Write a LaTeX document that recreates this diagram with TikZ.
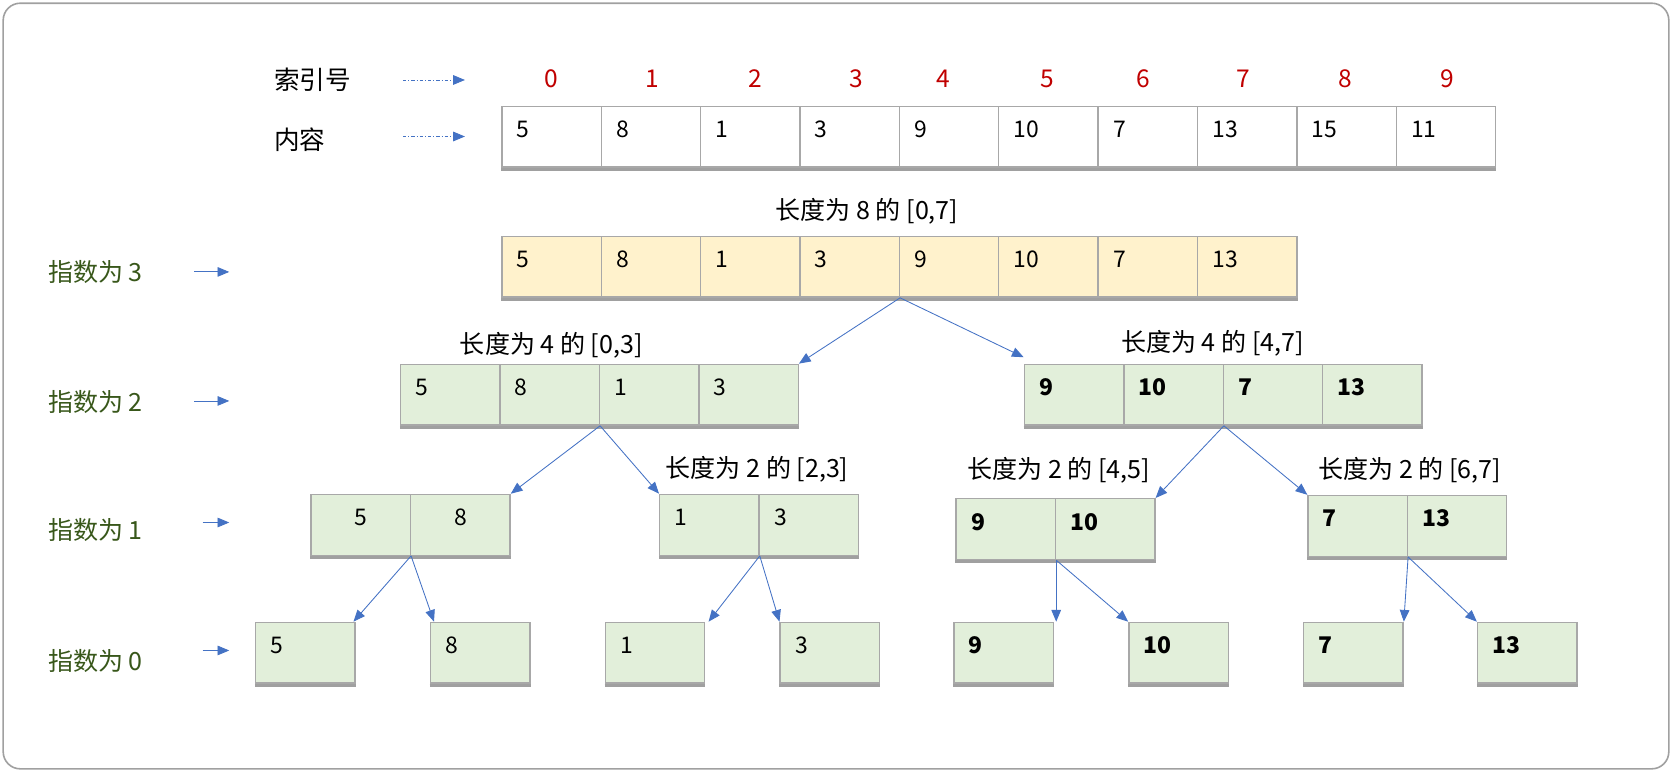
\documentclass[tikz,border=0pt]{standalone}
\usepackage{fontspec}
\setmainfont{Noto Sans CJK SC}
\usetikzlibrary{arrows.meta}
\definecolor{lblgreen}{HTML}{38571A}
\definecolor{idxred}{HTML}{C00000}
\definecolor{arrblue}{HTML}{4472C4}
\definecolor{cellgray}{HTML}{A8A8A8}
\definecolor{shadowgray}{HTML}{A0A0A0}
\definecolor{yelfill}{HTML}{FFF2CC}
\definecolor{grnfill}{HTML}{E2EFDA}
\tikzset{
  cell/.style={draw=cellgray, line width=1.3pt, anchor=north west,
    inner ysep=0pt, inner xsep=14pt, text width=65.2pt, align=left,
    text height=29.5pt, text depth=27.5pt, font=\fontsize{21.5}{24}\selectfont},
  ccell/.style={cell, align=center},
  bcell/.style={cell, font=\fontsize{21.5}{24}\selectfont\bfseries},
  shadow/.style={draw=shadowgray, line width=3pt},
  conn/.style={draw=arrblue, line width=0.8pt, -{Triangle[length=11pt,width=9pt]}},
  idxarrow/.style={draw=arrblue, line width=0.8pt, dash dot, -{Triangle[length=11pt,width=9pt]}},
  lvl/.style={anchor=west, text=lblgreen, font=\fontsize{23.5}{27}\selectfont, inner sep=0pt},
  hdr/.style={anchor=west, font=\fontsize{24}{27}\selectfont, inner sep=0pt},
  ttl/.style={font=\fontsize{23.5}{27}\selectfont, inner sep=0pt},
  idx/.style={text=idxred, font=\fontsize{23}{26}\selectfont, inner sep=0pt}
}
\begin{document}
\begin{tikzpicture}[x=1pt,y=-1pt]
\useasboundingbox (0,0) rectangle (1568,724);
\draw[draw=shadowgray, line width=1.5pt, rounded corners=16pt] (3,3) rectangle (1565,721);

% header
\node[hdr] (hidx) at (257,75) {索引号};
\node[hdr] (hcon) at (257,131) {内容};
\coordinate (ia1) at (378,75); \coordinate (ia2) at (436,75);
\coordinate (ca1) at (378,128); \coordinate (ca2) at (436,128);
\draw[idxarrow] (ia1) -- (ia2);
\draw[idxarrow] (ca1) -- (ca2);
\foreach \x [count=\i from 0] in {517,612,708,803,885,982,1072,1166,1262,1357}
  \node[idx] (n\i) at (\x,74) {\i};

% top array
\foreach \v [count=\i from 0] in {5,8,1,3,9,10,7,13,15,11}
  \node[cell, fill=white] (t\i) at ({470+\i*93.2},99) {\v};
\draw[shadow] ([yshift=-1.5pt]t0.south west) -- ([yshift=-1.5pt]t9.south east);

% level 3
\node[ttl] (l8) at (813,198) {长度为 8 的 [0,7]};
\foreach \v [count=\i from 0] in {5,8,1,3,9,10,7,13}
  \node[cell, fill=yelfill] (y\i) at ({470+\i*93.2},221) {\v};
\draw[shadow] ([yshift=-1.5pt]y0.south west) -- ([yshift=-1.5pt]y7.south east);

% level 2
\node[ttl] (l4a) at (517,324) {长度为 4 的 [0,3]};
\node[ttl] (l4b) at (1137,322) {长度为 4 的 [4,7]};
\foreach \v [count=\i from 0] in {5,8,1,3}
  \node[cell, fill=grnfill] (p\i) at ({375+\i*93.25},341) {\v};
\foreach \v [count=\i from 0] in {9,10,7,13}
  \node[bcell, fill=grnfill] (q\i) at ({960+\i*93.25},341) {\v};
\draw[shadow] ([yshift=-1.5pt]p0.south west) -- ([yshift=-1.5pt]p3.south east);
\draw[shadow] ([yshift=-1.5pt]q0.south west) -- ([yshift=-1.5pt]q3.south east);

% level 1
\node[ttl] (l2b) at (710,440) {长度为 2 的 [2,3]};
\node[ttl] (l2c) at (993,441) {长度为 2 的 [4,5]};
\node[ttl] (l2d) at (1322,441) {长度为 2 的 [6,7]};
\foreach \v [count=\i from 0] in {5,8}
  \node[ccell, fill=grnfill] (a\i) at ({291+\i*93.5},463) {\v};
\foreach \v [count=\i from 0] in {1,3}
  \node[cell, fill=grnfill] (b\i) at ({618+\i*93.2},463) {\v};
\foreach \v [count=\i from 0] in {9,10}
  \node[bcell, fill=grnfill] (c\i) at ({896+\i*93.2},467) {\v};
\foreach \v [count=\i from 0] in {7,13}
  \node[bcell, fill=grnfill] (d\i) at ({1226+\i*93.2},464) {\v};
\foreach \n in {a,b,c,d}
  \draw[shadow] ([yshift=-1.5pt]\n0.south west) -- ([yshift=-1.5pt]\n1.south east);

% level 0
\node[cell, fill=grnfill] (e0) at (239,583) {5};
\node[cell, fill=grnfill] (e1) at (403,583) {8};
\node[cell, fill=grnfill] (e2) at (567,583) {1};
\node[cell, fill=grnfill] (e3) at (731,583) {3};
\node[bcell, fill=grnfill] (e4) at (894,583) {9};
\node[bcell, fill=grnfill] (e5) at (1058,583) {10};
\node[bcell, fill=grnfill] (e6) at (1222,583) {7};
\node[bcell, fill=grnfill] (e7) at (1385,583) {13};
\foreach \i in {0,...,7}
  \draw[shadow] ([yshift=-1.5pt]e\i.south west) -- ([yshift=-1.5pt]e\i.south east);

% level labels
\node[lvl] (v3) at (45,255) {指数为 3};
\node[lvl] (v2) at (45,377) {指数为 2};
\node[lvl] (v1) at (45,497) {指数为 1};
\node[lvl] (v0) at (45,620) {指数为 0};
\coordinate (s3) at (182,255); \coordinate (f3) at (215,255);
\coordinate (s2) at (182,376); \coordinate (f2) at (215,376);
\coordinate (s1) at (190,490); \coordinate (f1) at (215,490);
\coordinate (s0) at (190,610); \coordinate (f0) at (215,610);
\foreach \k in {0,1,2,3} \draw[conn] (s\k) -- (f\k);

% connectors
\draw[conn] (y3.south east) -- (p3.north east);
\draw[conn] (y3.south east) -- ([yshift=6pt]q0.north west);
\draw[conn] (p1.south east) -- (a1.north east);
\draw[conn] (p1.south east) -- (b0.north west);
\draw[conn] (q1.south east) -- (c1.north east);
\draw[conn] (q1.south east) -- (d0.north west);
\draw[conn] (a0.south east) -- ([xshift=-2pt]e0.north east);
\draw[conn] (a0.south east) -- ([xshift=4pt]e1.north west);
\draw[conn] (b0.south east) -- ([xshift=3pt]e2.north east);
\draw[conn] (b0.south east) -- (e3.north west);
\draw[conn] (c0.south east) -- ([xshift=2pt]e4.north east);
\draw[conn] (c0.south east) -- (e5.north west);
\draw[conn] (d0.south east) -- (e6.north east);
\draw[conn] (d0.south east) -- (e7.north west);
\end{tikzpicture}
\end{document}
